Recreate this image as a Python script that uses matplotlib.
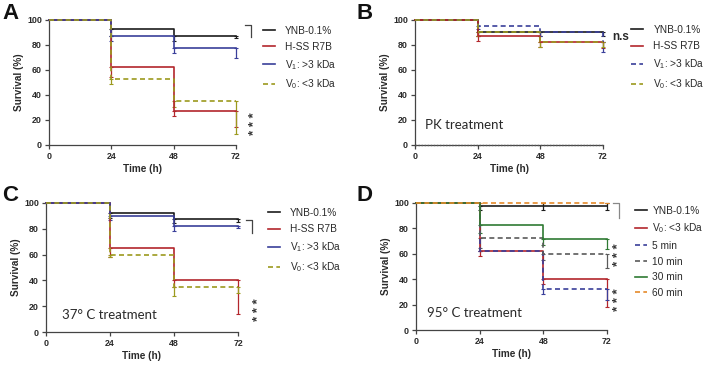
import matplotlib
matplotlib.use("Agg")
import matplotlib.pyplot as plt
import numpy as np

plt.rcParams['font.family'] = ['Liberation Sans', 'DejaVu Sans']
plt.rcParams['mathtext.fontset'] = 'custom'
plt.rcParams['mathtext.rm'] = 'Liberation Sans'
plt.rcParams['mathtext.it'] = 'Liberation Sans:italic'
plt.rcParams['mathtext.bf'] = 'Liberation Sans:bold'

# ---------------- data ----------------
times = [0, 24, 48, 72]
x_ticks = [0, 24, 48, 72]
y_ticks = [0, 20, 40, 60, 80, 100]

# Panel A
a_labels = ['YNB-0.1%', 'H-SS R7B', r'V$_\mathregular{1}$: >3 kDa', r'V$_\mathregular{0}$: <3 kDa']
a_values = [[100, 92.5, 87.5, 87.5],
            [100, 62.5, 27.5, 27.5],
            [100, 87.5, 77.5, 77.5],
            [100, 52.5, 35, 35]]
a_err = [[0, 5, 4, 2],
         [0, 8, 4, 13],
         [0, 4, 4, 8],
         [0, 4, 5, 26]]

# Panel B
b_labels = ['YNB-0.1%', 'H-SS R7B', r'V$_\mathregular{1}$: >3 kDa', r'V$_\mathregular{0}$: <3 kDa']
b_values = [[100, 90, 90, 90],
            [100, 87.5, 82.5, 82.5],
            [100, 95, 90, 82.5],
            [100, 90, 82.5, 82.5]]
b_err = [[0, 3, 3, 3],
         [0, 4, 4, 5],
         [0, 2, 3, 8],
         [0, 3, 4, 4]]
b_pk_zero = [0, 0, 0, 0]

# Panel C
c_labels = ['YNB-0.1%', 'H-SS R7B', r'V$_\mathregular{1}$: >3 kDa', r'V$_\mathregular{0}$: <3 kDa']
c_values = [[100, 92.5, 87.5, 87.5],
            [100, 65, 40, 40],
            [100, 90, 82.5, 82.5],
            [100, 60, 35, 35]]
c_err = [[0, 4, 3, 2],
         [0, 7, 5, 26],
         [0, 3, 4, 2],
         [0, 2, 7, 5]]

# Panel D
d_labels = ['YNB-0.1%', r'V$_\mathregular{0}$: <3 kDa', '5 min', '10 min', '30 min', '60 min']
d_values = [[100, 97.5, 97.5, 97.5],
            [100, 62.5, 40, 40],
            [100, 62.5, 32.5, 32.5],
            [100, 72.5, 60, 60],
            [100, 82.5, 72, 72],
            [100, 100, 100, 100]]
d_err = [[0, 3, 3, 3],
         [0, 4, 4, 22],
         [0, 0, 4, 9],
         [0, 8, 5, 11],
         [0, 6, 5, 8],
         [0, 0, 0, 0]]
d_err_up = [[0, 0, 2.5, 2.5],
            [0, 0, 0, 0],
            [0, 0, 0, 0],
            [0, 0, 0, 0],
            [0, 0, 0, 0],
            [0, 0, 0, 0]]

# ---------------- styles ----------------
BLACK = '#1c1c1c'
RED = '#b3262c'
BLUE = '#3a3f9a'
OLIVE = '#9c9a1e'
GREY = '#5a5a5a'
GREEN = '#2f7a33'
ORANGE = '#e58a2a'
TXT = '#2a2a2a'

style_a = [(BLACK, '-'), (RED, '-'), (BLUE, '-'), (OLIVE, (0, (3, 2)))]
style_b = [(BLACK, '-'), (RED, '-'), (BLUE, (0, (3, 2))), (OLIVE, (0, (3, 2)))]
style_d = [(BLACK, '-'), (RED, '-'), (BLUE, (0, (3, 2))), (GREY, (0, (3, 2))),
           (GREEN, '-'), (ORANGE, (0, (3, 2)))]

W, H = 708, 367
fig = plt.figure(figsize=(W / 100, H / 100), dpi=100)


def make_ax(x0, x1, ytop, ybot):
    return fig.add_axes([x0 / W, (H - ybot) / H, (x1 - x0) / W, (ybot - ytop) / H])


def style_axes(ax):
    ax.set_xlim(0, 72)
    ax.set_ylim(0, 100)
    for s in ['top', 'right']:
        ax.spines[s].set_visible(False)
    for s in ['left', 'bottom']:
        ax.spines[s].set_color('#444444')
        ax.spines[s].set_linewidth(0.9)
    ax.set_xticks(x_ticks)
    ax.set_yticks(y_ticks)
    ax.tick_params(length=3, width=0.9, color='#444444', labelsize=6.4, pad=2,
                   labelcolor=TXT)
    for lab in ax.get_xticklabels() + ax.get_yticklabels():
        lab.set_fontweight('bold')
    ax.set_xlabel('Time (h)', fontsize=7.2, fontweight='bold', labelpad=2, color=TXT)
    ax.set_ylabel('Survival (%)', fontsize=7.2, fontweight='bold', labelpad=2, color=TXT)


def plot_series(ax, values, errs, styles, labels, errs_up=None):
    handles = []
    for i, (v, e, (c, ls), lab) in enumerate(zip(values, errs, styles, labels)):
        ln, = ax.step(times, v, where='post', color=c, linestyle=ls, lw=1.2,
                      label=lab, clip_on=False, zorder=3)
        lower = np.array(e)[1:]
        upper = np.zeros(3) if errs_up is None else np.array(errs_up[i])[1:]
        ax.errorbar(times[1:], v[1:], yerr=[lower, upper], fmt='none',
                    ecolor=c, elinewidth=0.9, capsize=1.5, capthick=0.8,
                    clip_on=False, zorder=2)
        handles.append(ln)
    return handles


def legend(ax, handles, labels, x, y, spacing=0.6, pad=1.0):
    leg = ax.legend(handles, labels, loc='upper left', bbox_to_anchor=(x, y),
                    frameon=False, fontsize=7.3, handlelength=1.2, handletextpad=pad,
                    labelspacing=spacing, borderaxespad=0, borderpad=0)
    for t in leg.get_texts():
        t.set_color(TXT)
    return leg


def bracket(ax, x, y0, y1, color='#444444'):
    ax.plot([x - 2.3, x, x], [y0, y0, y1], color=color, lw=0.9, clip_on=False)


def stars(ax, x, y, size=9.5):
    ax.text(x, y, '* * *', rotation=90, ha='center', va='center', fontsize=size,
            fontweight='bold', color='#333333', clip_on=False, linespacing=1)


# Panel A
axA = make_ax(49, 236, 20, 145)
style_axes(axA)
hA = plot_series(axA, a_values, a_err, style_a, a_labels)
legend(axA, hA, a_labels, 1.144, 0.955)
bracket(axA, 77.8, 96, 86.5)
stars(axA, 79.4, 17)

# Panel B
axB = make_ax(415, 603, 20, 145)
style_axes(axB)
axB.plot(times, b_pk_zero, color='#555555', lw=1.0, linestyle=(0, (1, 1.2)),
         clip_on=False, zorder=3)
hB = plot_series(axB, b_values, b_err, style_b, b_labels)
legend(axB, hB, b_labels, 1.149, 0.96)
axB.text(75.5, 86, 'n.s', fontsize=8.5, fontweight='bold', va='center', ha='left',
         color=TXT)
axB.text(4, 16, 'PK treatment', fontsize=9.5, family=['Lato', 'DejaVu Sans'],
         va='center', color=TXT)

# Panel C
axC = make_ax(46, 238, 203, 332)
style_axes(axC)
hC = plot_series(axC, c_values, c_err, style_a, c_labels)
legend(axC, hC, c_labels, 1.156, 0.961)
bracket(axC, 77.4, 87, 77)
stars(axC, 80.0, 17)
axC.text(6, 13, '37° C treatment', fontsize=9.5, family=['Lato', 'DejaVu Sans'],
         va='center', color=TXT)

# Panel D
axD = make_ax(416, 607, 203, 330)
style_axes(axD)
hD = plot_series(axD, d_values, d_err, style_d, d_labels, errs_up=d_err_up)
legend(axD, hD, d_labels, 1.147, 0.976, spacing=0.55, pad=0.5)
bracket(axD, 76.5, 100, 88, color='#888888')
stars(axD, 76.4, 59)
stars(axD, 76.4, 24)
axD.text(4, 13, '95° C treatment', fontsize=9.5, family=['Lato', 'DejaVu Sans'],
         va='center', color=TXT)

# Panel letters
for lab, (px, py) in zip('ABCD', [(2, 3), (356, 3), (2, 185), (356, 185)]):
    fig.text(px / W, 1 - py / H, lab, fontsize=16, fontweight='bold', va='top',
             ha='left', color='#111111')

fig.savefig('out.png', dpi=100)
